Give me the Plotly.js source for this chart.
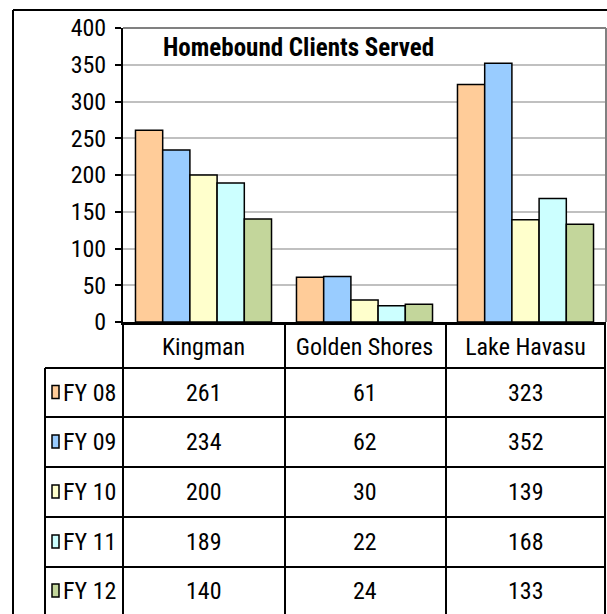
<!DOCTYPE html>
<html>
<head>
<meta charset="utf-8">
<script src="https://cdn.plot.ly/plotly-3.0.1.min.js"></script>
<style>html,body{margin:0;padding:0;background:#fff;}#chart{width:607px;height:614px;}</style>
</head>
<body>
<div id="chart"></div>
<script>
// ---- data ----
const categories = ['Kingman', 'Golden Shores', 'Lake Havasu'];
const seriesNames = ['FY 08', 'FY 09', 'FY 10', 'FY 11', 'FY 12'];
const fy08 = [261, 61, 323];
const fy09 = [234, 62, 352];
const fy10 = [200, 30, 139];
const fy11 = [189, 22, 168];
const fy12 = [140, 24, 133];
const seriesValues = [fy08, fy09, fy10, fy11, fy12];
const seriesColors = ['#FFCC99', '#99CCFF', '#FFFFCC', '#CCFFFF', '#C3D69B'];
const chartTitle = 'Homebound Clients Served';

// ---- layout geometry (pixels) ----
const W = 607, H = 614;
const L = 123, R = 606, T = 28, B = 322;
const px = v => (v - L) / (R - L);
const py = v => (B - v) / (B - T);
const FONT = 'Roboto Condensed, DejaVu Sans Condensed, Liberation Sans, sans-serif';

const rowLines = [368, 417, 467, 517, 567];
const rowCenters = [392.5, 442, 492, 542, 591];
const colLines = [285, 446];

const traces = seriesNames.map((name, i) => ({
  type: 'bar',
  name: name,
  x: categories,
  y: seriesValues[i],
  marker: {color: seriesColors[i], line: {color: '#000', width: 1.5}},
  hoverinfo: 'x+y+name'
}));

const shapes = [];
const annotations = [];
const blk = {color: '#000', width: 2};

// outer frame
shapes.push({type: 'line', xref: 'paper', yref: 'paper', x0: px(13), x1: px(620), y0: py(10), y1: py(10), line: blk});
shapes.push({type: 'line', xref: 'paper', yref: 'paper', x0: px(13), x1: px(13), y0: py(10), y1: py(630), line: blk});
// plot area border top/right
shapes.push({type: 'line', xref: 'paper', yref: 'paper', x0: 0, x1: 1, y0: 1, y1: 1, line: {color: '#808080', width: 2}});
shapes.push({type: 'line', xref: 'paper', yref: 'paper', x0: 1, x1: 1, y0: 0, y1: 1, line: {color: '#808080', width: 2}});
// table horizontal lines
rowLines.forEach(r => shapes.push({type: 'line', xref: 'paper', yref: 'paper', x0: px(45), x1: px(606), y0: py(r), y1: py(r), line: blk}));
// table vertical lines
shapes.push({type: 'line', xref: 'paper', yref: 'paper', x0: px(45), x1: px(45), y0: py(368), y1: py(630), line: blk});
shapes.push({type: 'line', xref: 'paper', yref: 'paper', x0: px(123), x1: px(123), y0: py(322), y1: py(630), line: blk});
colLines.forEach(c => shapes.push({type: 'line', xref: 'paper', yref: 'paper', x0: px(c), x1: px(c), y0: py(322), y1: py(630), line: blk}));
shapes.push({type: 'line', xref: 'paper', yref: 'paper', x0: px(605), x1: px(605), y0: py(322), y1: py(630), line: blk});

// legend keys + labels, table values
seriesNames.forEach((name, i) => {
  const c = rowCenters[i];
  shapes.push({type: 'rect', xref: 'paper', yref: 'paper', x0: px(52), x1: px(59), y0: py(c - 7), y1: py(c + 6),
    fillcolor: seriesColors[i], line: {color: '#000', width: 1.5}});
  annotations.push({xref: 'paper', yref: 'paper', x: px(61), y: py(c), xanchor: 'left', yanchor: 'middle',
    text: name, showarrow: false, font: {family: FONT, size: 24, color: '#000'}});
  categories.forEach((cat, j) => {
    annotations.push({xref: 'x', yref: 'paper', x: cat, y: py(c), xanchor: 'center', yanchor: 'middle',
      text: String(seriesValues[i][j]), showarrow: false, font: {family: FONT, size: 24, color: '#000'}});
  });
});

const layout = {
  width: W, height: H,
  margin: {l: L, r: W - R, t: T, b: H - B, pad: 0},
  paper_bgcolor: '#fff', plot_bgcolor: '#fff',
  showlegend: false,
  barmode: 'group', bargap: 0.155, bargroupgap: 0,
  font: {family: FONT, size: 24, color: '#000'},
  title: {text: '<b>' + chartTitle + '</b>', xref: 'paper', yref: 'paper', x: px(163), xanchor: 'left',
    y: py(47), yanchor: 'middle', font: {family: FONT, size: 25, color: '#000'}},
  xaxis: {type: 'category', range: [-0.5, 2.5], showline: true, linecolor: '#000', linewidth: 3,
    ticks: '', showgrid: false, zeroline: false, tickfont: {family: FONT, size: 24, color: '#000'},
    ticklabelstandoff: 1, fixedrange: true},
  yaxis: {range: [0, 400], dtick: 50, tick0: 0, showline: true, linecolor: '#000', linewidth: 2,
    ticks: 'outside', ticklen: 6, tickwidth: 2, tickcolor: '#000', showgrid: true, gridcolor: '#C0C0C0', gridwidth: 2,
    zeroline: false, tickfont: {family: FONT, size: 24, color: '#000'}, ticklabelstandoff: 4, fixedrange: true},
  shapes: shapes,
  annotations: annotations
};

Plotly.newPlot('chart', traces, layout, {displayModeBar: false, staticPlot: true});
</script>
</body>
</html>
